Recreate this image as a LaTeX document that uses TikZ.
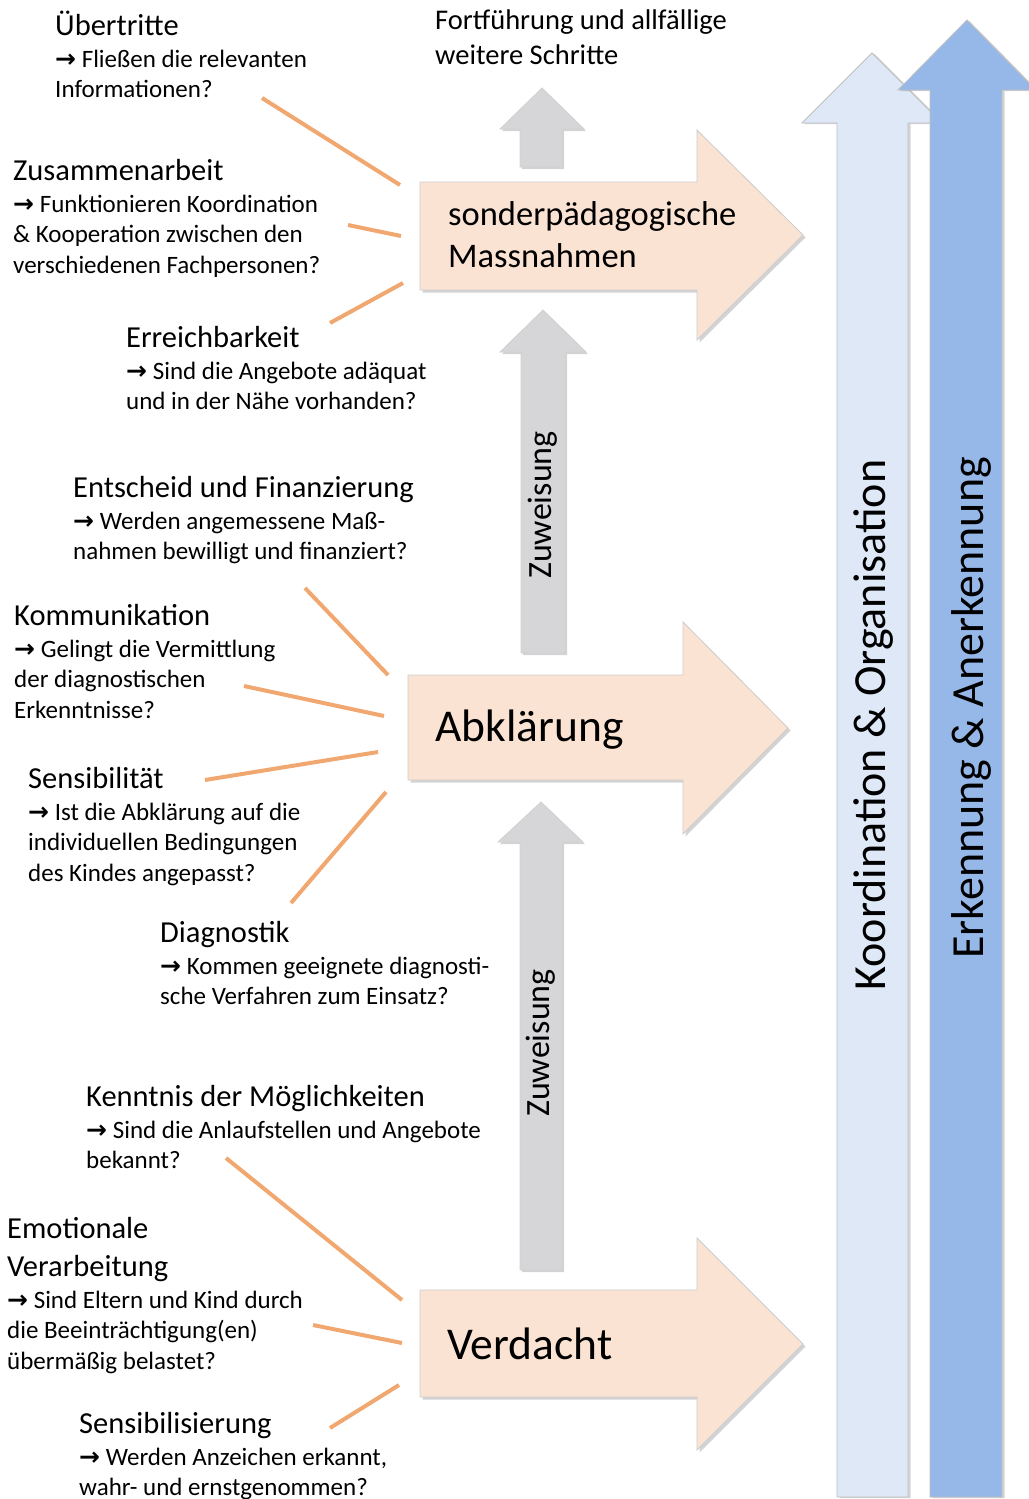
\documentclass[tikz,border=0pt]{standalone}
\usepackage{fontspec}
\setmainfont{Carlito}
\newfontfamily\arrowfont{DejaVu Sans}[BoldFont=DejaVu Sans Bold]
\usetikzlibrary{shadows}

\definecolor{peach}{RGB}{251,227,211}
\definecolor{stepgray}{RGB}{214,214,217}
\definecolor{paleblue}{RGB}{222,232,246}
\definecolor{midblue}{RGB}{150,184,232}
\definecolor{linkor}{RGB}{241,167,112}

\newcommand{\pfeil}{{\arrowfont\bfseries →}}
\newcommand{\hd}{\fontsize{30.5}{37.1}\selectfont\strut}

\tikzset{
  phase/.style={fill=peach, draw=black!20, line width=.8pt,
    drop shadow={shadow xshift=2.5pt, shadow yshift=-2.5pt, opacity=.35}},
  upstep/.style={fill=stepgray, draw=black!18, line width=.8pt,
    drop shadow={shadow xshift=2pt, shadow yshift=-2pt, opacity=.35}},
  column/.style={draw=black!25, line width=.8pt,
    drop shadow={shadow xshift=2.5pt, shadow yshift=-1pt, opacity=.35}},
  note/.style={font=\fontsize{25}{30.5}\selectfont, align=left, anchor=north west, inner sep=0pt},
  phasetext/.style={anchor=west, inner sep=0pt, align=left},
  vlabel/.style={rotate=90, inner sep=0pt, font=\fontsize{34}{40}\selectfont},
  link/.style={draw=linkor, line width=4pt}
}

\begin{document}
\begin{tikzpicture}[x=1pt, y=-1pt]
    \useasboundingbox (0,0) rectangle (1028,1499);

    \fill[column, fill=paleblue] (837,1497) -- (837,123) -- (802,123) -- (872,53) -- (942,123) -- (908,123) -- (908,1497) -- cycle;
    \fill[column, fill=midblue] (930,1497) -- (930,90) -- (898,90) -- (967,20) -- (1036,90) -- (1002,90) -- (1002,1497) -- cycle;

    \fill[upstep] (520,167) -- (520,129) -- (500,129) -- (542,88) -- (584,129) -- (562,129) -- (562,167) -- cycle;
    \fill[upstep] (521,653) -- (521,352) -- (500,352) -- (543,310) -- (586,352) -- (565,352) -- (565,653) -- cycle;
    \fill[upstep] (520,1270) -- (520,842) -- (498,842) -- (541,802) -- (583,842) -- (562,842) -- (562,1270) -- cycle;

    \fill[phase] (420,182) -- (697,182) -- (697,130) -- (803,235) -- (697,340) -- (697,290) -- (420,290) -- cycle;
    \fill[phase] (408,675) -- (683,675) -- (683,622) -- (788,728) -- (683,834) -- (683,780) -- (408,780) -- cycle;
    \fill[phase] (420,1290) -- (697,1290) -- (697,1238) -- (803,1344) -- (697,1450) -- (697,1397) -- (420,1397) -- cycle;

    \node (massnahmen) at (448,235) [phasetext, font=\fontsize{34.5}{42}\selectfont] {sonderpädagogische\\ Massnahmen};
    \node (abklaerung) at (435,730) [phasetext, font=\fontsize{45.5}{55}\selectfont] {Abklärung};
    \node (verdacht) at (447,1344) [phasetext, font=\fontsize{45.5}{55}\selectfont] {Verdacht};

    \node (zuweisungA) at (543,505) [vlabel] {Zuweisung};
    \node (zuweisungB) at (541,1043) [vlabel] {Zuweisung};
    \node (koordination) at (873,725) [vlabel, font=\fontsize{46}{55}\selectfont] {Koordination \& Organisation};
    \node (erkennung) at (971,708) [vlabel, font=\fontsize{46}{55}\selectfont] {Erkennung \& Anerkennung};

    \node (fortfuehrung) at (435,5) [note, font=\fontsize{28.5}{35}\selectfont] {\strut Fortführung und allfällige\\ weitere Schritte};

    \node (uebertritte) at (55,9) [note] {\hd Übertritte\\[1.5pt] \pfeil{} Fließen die relevanten\\ Informationen?};
    \node (zusammenarbeit) at (13,154) [note] {\hd Zusammenarbeit\\[1.5pt] \pfeil{} Funktionieren Koordination\\ \& Kooperation zwischen den\\ verschiedenen Fachpersonen?};
    \node (erreichbarkeit) at (126,321) [note] {\hd Erreichbarkeit\\[1.5pt] \pfeil{} Sind die Angebote adäquat\\ und in der Nähe vorhanden?};
    \node (entscheid) at (73,471) [note] {\hd Entscheid und Finanzierung\\[1.5pt] \pfeil{} Werden angemessene Maß-\\ nahmen bewilligt und finanziert?};
    \node (kommunikation) at (14,599) [note] {\hd Kommunikation\\[1.5pt] \pfeil{} Gelingt die Vermittlung\\ der diagnostischen\\ Erkenntnisse?};
    \node (sensibilitaet) at (28,762) [note] {\hd Sensibilität\\[1.5pt] \pfeil{} Ist die Abklärung auf die\\ individuellen Bedingungen\\ des Kindes angepasst?};
    \node (diagnostik) at (160,916) [note] {\hd Diagnostik\\[1.5pt] \pfeil{} Kommen geeignete diagnosti-\\ sche Verfahren zum Einsatz?};
    \node (kenntnis) at (86,1080) [note] {\hd Kenntnis der Möglichkeiten\\[1.5pt] \pfeil{} Sind die Anlaufstellen und Angebote\\ bekannt?};
    \node (emotionale) at (7,1212) [note] {\hd Emotionale\\ \hd Verarbeitung\\[1.5pt] \pfeil{} Sind Eltern und Kind durch\\ die Beeinträchtigung(en)\\ übermäßig belastet?};
    \node (sensibilisierung) at (79,1407) [note] {\hd Sensibilisierung\\[1.5pt] \pfeil{} Werden Anzeichen erkannt,\\ wahr- und ernstgenommen?};

    \coordinate (uebA) at (262,98);
    \coordinate (uebB) at (400,185);
    \coordinate (zusA) at (348,225);
    \coordinate (zusB) at (401,236);
    \coordinate (errA) at (330,323);
    \coordinate (errB) at (403,283);
    \coordinate (entA) at (305,588);
    \coordinate (entB) at (388,675);
    \coordinate (komA) at (244,686);
    \coordinate (komB) at (384,716);
    \coordinate (senA) at (205,780);
    \coordinate (senB) at (378,752);
    \coordinate (diaA) at (291,903);
    \coordinate (diaB) at (386,792);
    \coordinate (kenA) at (226,1158);
    \coordinate (kenB) at (402,1300);
    \coordinate (emoA) at (313,1325);
    \coordinate (emoB) at (402,1343);
    \coordinate (sbsA) at (330,1428);
    \coordinate (sbsB) at (399,1385);
    \draw[link] (uebA) -- (uebB);
    \draw[link] (zusA) -- (zusB);
    \draw[link] (errA) -- (errB);
    \draw[link] (entA) -- (entB);
    \draw[link] (komA) -- (komB);
    \draw[link] (senA) -- (senB);
    \draw[link] (diaA) -- (diaB);
    \draw[link] (kenA) -- (kenB);
    \draw[link] (emoA) -- (emoB);
    \draw[link] (sbsA) -- (sbsB);
\end{tikzpicture}
\end{document}
